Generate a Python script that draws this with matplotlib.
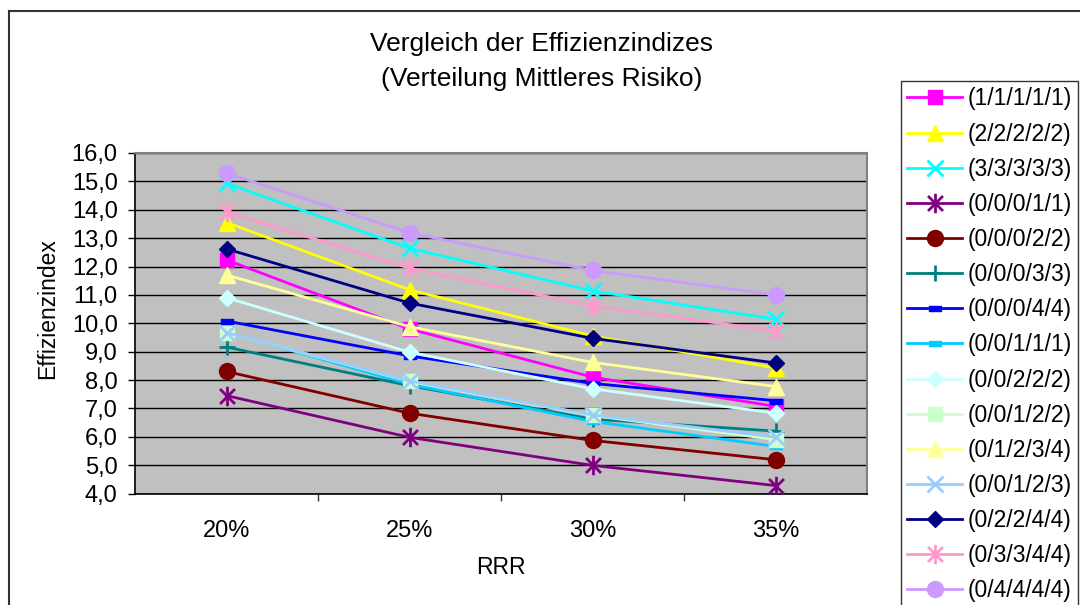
import matplotlib
matplotlib.use('Agg')
import matplotlib.pyplot as plt
from matplotlib.path import Path
from matplotlib.lines import Line2D
from matplotlib.ticker import FuncFormatter

plt.rcParams['font.family'] = ['Liberation Sans', 'DejaVu Sans']

categories = ['20%', '25%', '30%', '35%']
series_names = ['(1/1/1/1/1)', '(2/2/2/2/2)', '(3/3/3/3/3)', '(0/0/0/1/1)', '(0/0/0/2/2)',
                '(0/0/0/3/3)', '(0/0/0/4/4)', '(0/0/1/1/1)', '(0/0/2/2/2)', '(0/0/1/2/2)',
                '(0/1/2/3/4)', '(0/0/1/2/3)', '(0/2/2/4/4)', '(0/3/3/4/4)', '(0/4/4/4/4)']
v_11111 = [12.23, 9.80, 8.10, 7.07]
v_22222 = [13.55, 11.18, 9.55, 8.42]
v_33333 = [14.93, 12.64, 11.14, 10.14]
v_00011 = [7.45, 5.98, 4.99, 4.28]
v_00022 = [8.30, 6.83, 5.87, 5.19]
v_00033 = [9.16, 7.80, 6.62, 6.20]
v_00044 = [10.08, 8.85, 7.88, 7.27]
v_00111 = [9.69, 7.85, 6.54, 5.66]
v_00222 = [10.90, 8.98, 7.69, 6.83]
v_00122 = [9.67, 7.95, 6.75, 5.90]
v_01234 = [11.70, 9.88, 8.62, 7.77]
v_00123 = [9.67, 7.97, 6.77, 5.99]
v_02244 = [12.62, 10.71, 9.47, 8.60]
v_03344 = [13.93, 11.94, 10.61, 9.73]
v_04444 = [15.29, 13.19, 11.86, 11.00]
values = [v_11111, v_22222, v_33333, v_00011, v_00022, v_00033, v_00044, v_00111,
          v_00222, v_00122, v_01234, v_00123, v_02244, v_03344, v_04444]

colors = ['#FF00FF', '#FFFF00', '#00FFFF', '#800080', '#800000', '#008080', '#0000FF', '#00CCFF',
          '#CCFFFF', '#CCFFCC', '#FFFF99', '#99CCFF', '#000080', '#FF99CC', '#CC99FF']

# excel-like markers
star = Path([(-1, -1), (1, 1), (-1, 1), (1, -1), (0, -1.3), (0, 1.3)],
            [Path.MOVETO, Path.LINETO, Path.MOVETO, Path.LINETO, Path.MOVETO, Path.LINETO])
dash = Path([(-1, -0.4), (1, -0.4), (1, 0.4), (-1, 0.4), (-1, -0.4)],
            [Path.MOVETO, Path.LINETO, Path.LINETO, Path.LINETO, Path.CLOSEPOLY])
markers = ['s', '^', 'x', star, 'o', '+', dash, dash, 'D', 's', '^', 'x', 'D', star, 'o']
sizes = [10.5, 11, 11, 14, 11.5, 11, 9, 9, 8, 10.5, 11, 11, 8, 14, 11.5]

fig = plt.figure(figsize=(10.8, 6.05), dpi=100)
ax = fig.add_axes([135 / 1080, 1 - 493.5 / 605, 732 / 1080, 340.5 / 605])
ax.set_facecolor('#C0C0C0')

x = list(range(len(categories)))
handles = []
for name, vals, c, m, s in zip(series_names, values, colors, markers, sizes):
    filled = m not in ('x', '+') and m is not star
    h, = ax.plot(x, vals, color=c, lw=2, marker=m, markersize=s,
                 markerfacecolor=c if filled else 'none', markeredgecolor=c,
                 markeredgewidth=2 if not filled else 1, label=name, zorder=3)
    handles.append(h)

ax.set_xlim(-0.5, 3.5)
ax.set_ylim(4, 16)
ax.set_yticks(range(4, 17))
ax.yaxis.set_major_formatter(FuncFormatter(lambda v, p: f'{v:.1f}'.replace('.', ',')))
ax.set_xticks(x)
ax.set_xticklabels(categories)
ax.set_xticks([0.5, 1.5, 2.5], minor=True)
ax.tick_params(axis='x', which='major', length=0, pad=19, labelsize=17)
ax.tick_params(axis='x', which='minor', length=5, width=1, direction='out', color='#333333')
ax.tick_params(axis='y', length=5, width=1, pad=7.5, labelsize=17)
ax.grid(axis='y', color='black', lw=1, zorder=1)
ax.set_axisbelow(True)
for sp in ['left', 'bottom']:
    ax.spines[sp].set_color('black')
    ax.spines[sp].set_linewidth(1.2)
for sp in ['top', 'right']:
    ax.spines[sp].set_color('#808080')
    ax.spines[sp].set_linewidth(1.5)

fig.text(542 / 1080, 1 - 44 / 605, 'Vergleich der Effizienzindizes', ha='center', va='center', fontsize=19)
fig.text(542 / 1080, 1 - 79 / 605, '(Verteilung Mittleres Risiko)', ha='center', va='center', fontsize=19)
fig.text(48 / 1080, 1 - 309 / 605, 'Effizienzindex', ha='center', va='center', rotation=90, fontsize=16.5)
fig.text(501 / 1080, 1 - 567 / 605, 'RRR', ha='center', va='center', fontsize=16.5)

leg = fig.legend(handles=handles, loc='upper left', bbox_to_anchor=(901 / 1080, 1 - 81 / 605),
                 frameon=True, fancybox=False, edgecolor='black', fontsize=16.5,
                 handlelength=2.4, handletextpad=0.22, labelspacing=0.53, borderpad=0.28,
                 borderaxespad=0, markerscale=1.0)
leg.get_frame().set_linewidth(1)

# outer chart border
fig.add_artist(Line2D([8.5 / 1080, 8.5 / 1080], [0, 1 - 11 / 605], color='#333333', lw=1.5))
fig.add_artist(Line2D([8.5 / 1080, 1], [1 - 11 / 605, 1 - 11 / 605], color='#333333', lw=1.5))

fig.savefig('out.png', dpi=100)
